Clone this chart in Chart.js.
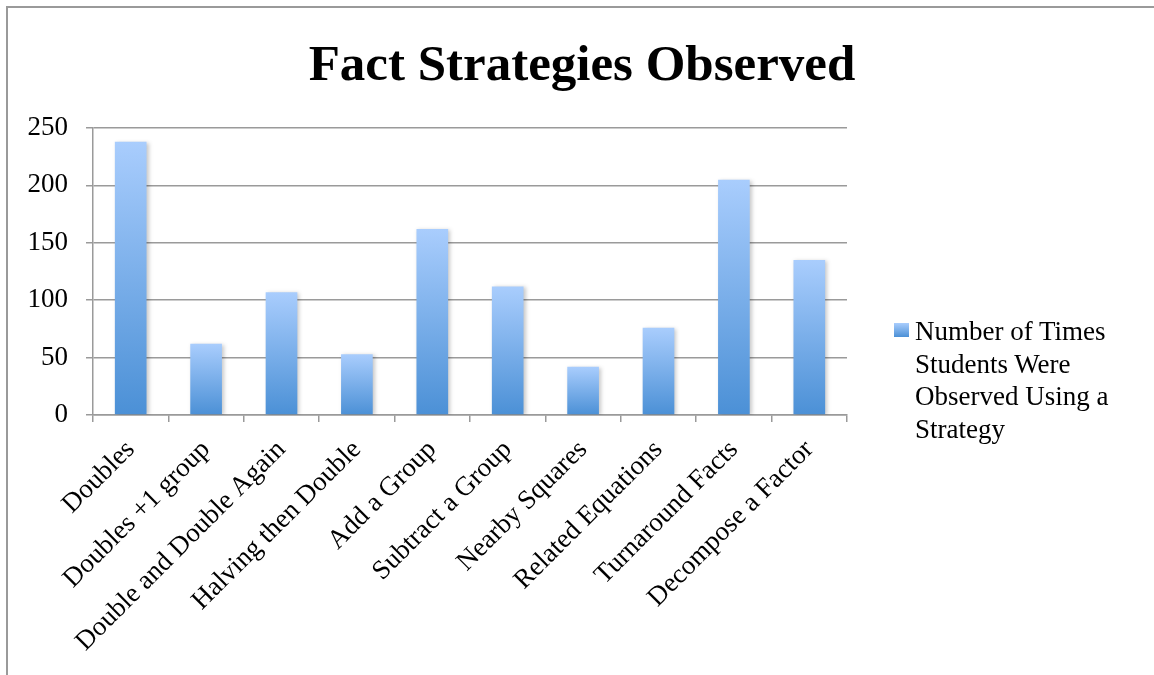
<!DOCTYPE html>
<html>
<head>
<meta charset="utf-8">
<title>Fact Strategies Observed</title>
<script src="https://cdn.jsdelivr.net/npm/chart.js@4.4.1/dist/chart.umd.min.js"></script>
<style>
    body {
        margin: 0;
        background: #ffffff;
    }
    .wrap {
        position: relative;
        width: 1154px;
        height: 675px;
        overflow: hidden;
    }
    .frame {
        position: absolute;
        left: 6px;
        top: 6px;
        right: -4px;
        bottom: -4px;
        border-left: 2px solid #9a9a9a;
        border-top: 2px solid #9a9a9a;
        pointer-events: none;
    }
    .titulo {
        position: absolute;
        left: 0;
        top: 33px;
        width: 1164px;
        text-align: center;
        font-family: 'Liberation Serif', serif;
        font-weight: bold;
        font-size: 51px;
        line-height: 60px;
        color: #000;
    }
    .legend {
        position: absolute;
        left: 894px;
        top: 315px;
        font-family: 'Liberation Serif', serif;
        font-size: 27px;
        line-height: 32.5px;
        color: #000;
    }
    .legend .swatch {
        position: absolute;
        left: 0;
        top: 8px;
        width: 15px;
        height: 14px;
        background: linear-gradient(#a9cdfd, #4b90d6);
    }
    .legend .text {
        margin-left: 21px;
    }
</style>
</head>
<body>
<div class="wrap">
    <canvas id="factChart"></canvas>
    <div class="frame"></div>
    <div class="titulo" id="titulo"></div>
    <div class="legend" id="legend"></div>
</div>

<script>
// ===== Datos =====
const titulo = 'Fact Strategies Observed';
const categorias = [
    'Doubles',
    'Doubles +1 group',
    'Double and Double Again',
    'Halving then Double',
    'Add a Group',
    'Subtract a Group',
    'Nearby Squares',
    'Related Equations',
    'Turnaround Facts',
    'Decompose a Factor'
];
const vecesObservadas = [238, 62, 107, 53, 162, 112, 42, 76, 205, 135];
const nombreSerie = 'Number of Times Students Were Observed Using a Strategy';
const lineasLeyenda = ['Number of Times', 'Students Were', 'Observed Using a', 'Strategy'];
const ticksY = [0, 50, 100, 150, 200, 250];

const FONT = "'Liberation Serif', serif";
const GRIS = '#9a9a9a';

// Degradado por barra (claro arriba, oscuro abajo)
function barGradient(context) {
    const chart = context.chart;
    const area = chart.chartArea;
    if (!area || context.type !== 'data') return '#74a9e8';
    const y = chart.scales.y;
    const top = y.getPixelForValue(context.parsed.y);
    const bottom = y.getPixelForValue(0);
    const g = chart.ctx.createLinearGradient(0, top, 0, bottom);
    g.addColorStop(0, '#a9cdfd');
    g.addColorStop(1, '#4b90d6');
    return g;
}

// Sombra suave detrás de las barras
const sombraBarras = {
    id: 'sombraBarras',
    beforeDatasetsDraw(chart) {
        const ctx = chart.ctx;
        ctx.save();
        ctx.shadowColor = 'rgba(0, 0, 0, 0.22)';
        ctx.shadowBlur = 4;
        ctx.shadowOffsetX = 2;
        ctx.shadowOffsetY = 1;
    },
    afterDatasetsDraw(chart) {
        chart.ctx.restore();
    }
};

document.getElementById('titulo').textContent = titulo;
document.getElementById('legend').innerHTML =
    '<span class="swatch"></span><div class="text">' + lineasLeyenda.join('<br>') + '</div>';

const ctx = document.getElementById('factChart').getContext('2d');
new Chart(ctx, {
    type: 'bar',
    data: {
        labels: categorias,
        datasets: [{
            label: nombreSerie,
            data: vecesObservadas,
            backgroundColor: barGradient,
            borderWidth: 0,
            categoryPercentage: 1,
            barPercentage: 0.42
        }]
    },
    options: {
        responsive: true,
        maintainAspectRatio: false,
        animation: false,
        layout: {
            padding: { left: 0, right: 307, top: 128, bottom: 0 }
        },
        plugins: {
            legend: { display: false },
            tooltip: { enabled: false },
            title: { display: false }
        },
        scales: {
            y: {
                min: 0,
                max: 250,
                afterFit(scale) { scale.width = 93; },
                afterBuildTicks(scale) { scale.ticks = ticksY.map(v => ({ value: v })); },
                ticks: {
                    stepSize: 50,
                    color: '#000',
                    padding: 18,
                    font: { family: FONT, size: 27 }
                },
                grid: {
                    color: GRIS,
                    lineWidth: 1.5,
                    tickLength: 7
                },
                border: { display: true, color: GRIS, width: 1.5 }
            },
            x: {
                afterFit(scale) { scale.height = 260; },
                ticks: {
                    color: '#000',
                    minRotation: 45,
                    maxRotation: 45,
                    autoSkip: false,
                    padding: 12,
                    font: { family: FONT, size: 27 }
                },
                grid: {
                    offset: true,
                    drawOnChartArea: false,
                    drawTicks: true,
                    tickLength: 7,
                    color: GRIS,
                    lineWidth: 1.5
                },
                border: { display: true, color: GRIS, width: 1.5 }
            }
        }
    },
    plugins: [sombraBarras]
});
</script>
</body>
</html>
